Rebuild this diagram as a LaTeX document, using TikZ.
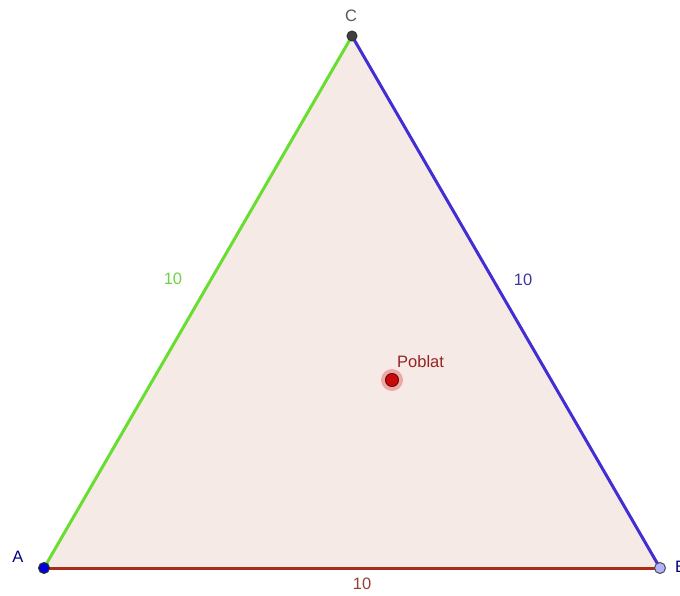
\documentclass[tikz,border=0pt]{standalone}
\usepackage{fontspec}
\setmainfont{Liberation Sans}
\usepackage{tikz}
\usetikzlibrary{positioning}
\definecolor{ggfill}{RGB}{246,234,230}
\definecolor{gggreen}{RGB}{104,222,48}
\definecolor{ggblue}{RGB}{66,46,210}
\definecolor{ggred}{RGB}{168,44,26}
\definecolor{gglgreen}{RGB}{110,210,70}
\definecolor{gglblue}{RGB}{60,56,160}
\definecolor{gglred}{RGB}{150,64,56}
\definecolor{ggpoint}{RGB}{200,10,10}
\definecolor{ggtext}{RGB}{150,36,36}
\tikzstyle{side} = [line width=3pt]
\tikzstyle{vertex} = [circle, inner sep=0pt, minimum size=11pt, draw=black!80, line width=1pt]
\tikzstyle{lbl} = [font=\fontsize{16.5}{19}\selectfont, inner sep=0pt]

\begin{document}
\begin{tikzpicture}[x=1pt, y=-1pt]
    \useasboundingbox (0,0) rectangle (680,596);
    \fill[white] (0,0) rectangle (680,596);
    \coordinate (A) at (44,568);
    \coordinate (B) at (660,568);
    \coordinate (C) at (352,36);

    \fill[ggfill] (A) -- (B) -- (C) -- cycle;
    \draw[side, gggreen] (A) -- (C);
    \draw[side, ggblue]  (C) -- (B);
    \draw[side, ggred]   (A) -- (B);

    \node (vA) [vertex, fill=blue!85!black] at (A) {};
    \node (vB) [vertex, fill=blue!30!white, draw=black!70] at (B) {};
    \node (vC) [vertex, minimum size=10pt, fill=black!75] at (C) {};

    \node (lA) [lbl, text=blue!50!black] at (18,557) {A};
    \node (lB) [lbl, text=blue!50!black, anchor=west] at (675,567) {B};
    \node (lC) [lbl, text=black!65] at (351,16) {C};

    \node (sAC) [lbl, text=gglgreen] at (173,279) {10};
    \node (sCB) [lbl, text=gglblue]  at (523,280) {10};
    \node (sAB) [lbl, text=gglred]   at (362,584) {10};

    % point inside the triangle
    \node (halo) [circle, inner sep=0pt, minimum size=22pt, fill=ggpoint!35] at (392,380) {};
    \node (P) [circle, inner sep=0pt, minimum size=13pt, fill=ggpoint, draw=ggpoint!60!black, line width=1pt] at (392,380) {};
    \node (lP) [lbl, text=ggtext, above right=7pt and 0pt of P] {Poblat};
\end{tikzpicture}
\end{document}
